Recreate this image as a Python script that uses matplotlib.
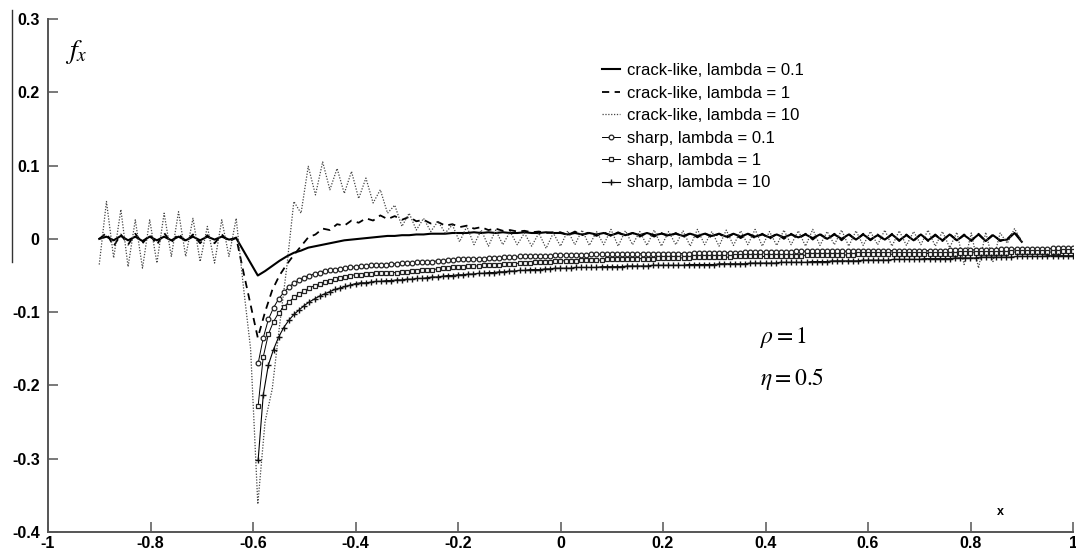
import numpy as np
import matplotlib
matplotlib.use('Agg')
import matplotlib.pyplot as plt
from matplotlib.lines import Line2D

plt.rcParams['font.family'] = ['Liberation Sans', 'DejaVu Sans']
plt.rcParams['mathtext.fontset'] = 'stix'
plt.rcParams['axes.unicode_minus'] = False

# crack-like solutions: 129 nodes on [-0.9, 0.9]
crack_x0, crack_x1, crack_n = -0.9, 0.9, 129
# sharp solutions: 160 nodes on [-0.59, 1.0]
sharp_x0, sharp_x1, sharp_n = -0.59, 1.0, 160

crack_01 = [
    0.000, 0.003, -0.002, 0.004, -0.002, 0.003, -0.003, 0.003, -0.002, 0.003,
    -0.002, 0.003, -0.002, 0.003, -0.002, 0.003, -0.001, 0.003, -0.001, 0.001,
    -0.016, -0.033, -0.050, -0.044, -0.037, -0.030, -0.024, -0.019, -0.016, -0.012,
    -0.010, -0.008, -0.006, -0.004, -0.002, -0.001, 0.000, 0.001, 0.002, 0.003,
    0.004, 0.004, 0.005, 0.005, 0.006, 0.006, 0.007, 0.007, 0.007, 0.008,
    0.008, 0.008, 0.009, 0.008, 0.009, 0.008, 0.009, 0.008, 0.008, 0.009,
    0.008, 0.008, 0.009, 0.008, 0.008, 0.006, 0.008, 0.006, 0.008, 0.006,
    0.008, 0.005, 0.008, 0.005, 0.008, 0.005, 0.008, 0.005, 0.007, 0.005,
    0.007, 0.004, 0.007, 0.004, 0.007, 0.004, 0.007, 0.003, 0.007, 0.003,
    0.007, 0.003, 0.006, 0.002, 0.006, 0.002, 0.006, 0.002, 0.006, 0.001,
    0.006, 0.000, 0.006, 0.000, 0.006, -0.001, 0.006, -0.001, 0.005, -0.001,
    0.006, -0.002, 0.005, -0.002, 0.006, -0.002, 0.005, -0.002, 0.006, -0.002,
    0.005, -0.002, 0.006, -0.003, 0.005, -0.002, -0.001, 0.008, -0.004]

crack_1 = [
    0.000, 0.008, -0.010, 0.006, -0.008, 0.007, -0.006, 0.006, -0.008, 0.008,
    -0.005, 0.007, -0.004, 0.006, -0.006, 0.005, -0.006, 0.006, -0.004, 0.002,
    -0.045, -0.090, -0.135, -0.100, -0.070, -0.050, -0.035, -0.022, -0.010, 0.002,
    0.006, 0.014, 0.012, 0.020, 0.018, 0.025, 0.022, 0.028, 0.025, 0.032,
    0.027, 0.031, 0.026, 0.030, 0.024, 0.026, 0.021, 0.023, 0.018, 0.020,
    0.016, 0.018, 0.014, 0.016, 0.012, 0.014, 0.011, 0.012, 0.010, 0.011,
    0.009, 0.010, 0.008, 0.009, 0.009, 0.005, 0.010, 0.005, 0.009, 0.004,
    0.009, 0.004, 0.009, 0.004, 0.008, 0.003, 0.008, 0.003, 0.008, 0.003,
    0.008, 0.002, 0.008, 0.002, 0.008, 0.002, 0.007, 0.001, 0.007, 0.001,
    0.007, 0.001, 0.007, 0.000, 0.007, 0.000, 0.007, 0.000, 0.007, -0.001,
    0.007, -0.001, 0.007, -0.002, 0.007, -0.002, 0.007, -0.002, 0.006, -0.002,
    0.007, -0.003, 0.006, -0.003, 0.007, -0.003, 0.006, -0.003, 0.007, -0.003,
    0.006, -0.003, 0.007, -0.003, 0.006, -0.003, 0.000, 0.010, -0.003]

crack_10 = [
    -0.035, 0.051, -0.026, 0.040, -0.038, 0.026, -0.040, 0.026, -0.033, 0.035,
    -0.024, 0.037, -0.024, 0.028, -0.031, 0.017, -0.033, 0.026, -0.024, 0.028,
    -0.065, -0.150, -0.362, -0.250, -0.205, -0.120, -0.040, 0.051, 0.035, 0.099,
    0.060, 0.105, 0.067, 0.096, 0.062, 0.092, 0.055, 0.083, 0.049, 0.067,
    0.035, 0.046, 0.017, 0.035, 0.012, 0.028, 0.010, 0.024, 0.008, 0.019,
    -0.004, 0.017, -0.008, 0.012, -0.010, 0.012, -0.008, 0.010, -0.008, 0.008,
    -0.010, 0.008, -0.013, 0.008, -0.010, 0.011, -0.008, 0.012, -0.009, 0.010,
    -0.008, 0.013, -0.010, 0.011, -0.008, 0.010, -0.009, 0.012, -0.010, 0.010,
    -0.008, 0.011, -0.010, 0.013, -0.008, 0.010, -0.010, 0.012, -0.009, 0.011,
    -0.008, 0.013, -0.010, 0.010, -0.009, 0.012, -0.008, 0.011, -0.010, 0.013,
    -0.009, 0.010, -0.008, 0.012, -0.010, 0.011, -0.009, 0.010, -0.008, 0.012,
    -0.010, 0.011, -0.009, 0.010, -0.008, 0.012, -0.010, 0.010, -0.012, 0.009,
    -0.035, 0.008, -0.040, 0.009, -0.031, 0.008, -0.006, 0.014, -0.004]

sharp_01 = [
    -0.170, -0.135, -0.110, -0.094, -0.082, -0.073, -0.066, -0.060, -0.056, -0.053,
    -0.050, -0.048, -0.046, -0.044, -0.043, -0.042, -0.041, -0.040, -0.039, -0.038,
    -0.037, -0.037, -0.036, -0.036, -0.035, -0.035, -0.034, -0.034, -0.033, -0.033,
    -0.033, -0.032, -0.032, -0.031, -0.031, -0.030, -0.030, -0.029, -0.029, -0.028,
    -0.028, -0.028, -0.027, -0.027, -0.027, -0.026, -0.026, -0.026, -0.025, -0.025,
    -0.025, -0.024, -0.024, -0.024, -0.023, -0.023, -0.023, -0.023, -0.022, -0.022,
    -0.022, -0.022, -0.022, -0.022, -0.022, -0.021, -0.021, -0.021, -0.021, -0.021,
    -0.021, -0.021, -0.021, -0.021, -0.021, -0.020, -0.020, -0.020, -0.020, -0.020,
    -0.020, -0.020, -0.020, -0.020, -0.020, -0.019, -0.019, -0.019, -0.019, -0.019,
    -0.019, -0.019, -0.019, -0.019, -0.019, -0.018, -0.018, -0.018, -0.018, -0.018,
    -0.018, -0.018, -0.018, -0.018, -0.018, -0.017, -0.017, -0.017, -0.017, -0.017,
    -0.017, -0.017, -0.017, -0.017, -0.017, -0.017, -0.017, -0.017, -0.017, -0.017,
    -0.016, -0.016, -0.016, -0.016, -0.016, -0.016, -0.016, -0.016, -0.016, -0.016,
    -0.016, -0.016, -0.016, -0.016, -0.016, -0.015, -0.015, -0.015, -0.015, -0.015,
    -0.015, -0.015, -0.015, -0.015, -0.015, -0.014, -0.014, -0.014, -0.014, -0.014,
    -0.014, -0.014, -0.014, -0.014, -0.014, -0.013, -0.013, -0.013, -0.013, -0.013]

sharp_1 = [
    -0.228, -0.161, -0.130, -0.113, -0.101, -0.093, -0.086, -0.080, -0.075, -0.071,
    -0.067, -0.064, -0.061, -0.059, -0.057, -0.055, -0.053, -0.052, -0.050, -0.049,
    -0.049, -0.048, -0.048, -0.047, -0.047, -0.047, -0.046, -0.046, -0.045, -0.045,
    -0.044, -0.044, -0.043, -0.042, -0.042, -0.041, -0.040, -0.040, -0.039, -0.038,
    -0.038, -0.037, -0.037, -0.037, -0.036, -0.036, -0.035, -0.035, -0.034, -0.034,
    -0.034, -0.033, -0.033, -0.033, -0.032, -0.032, -0.031, -0.031, -0.030, -0.030,
    -0.030, -0.030, -0.030, -0.029, -0.029, -0.029, -0.029, -0.029, -0.028, -0.028,
    -0.028, -0.028, -0.028, -0.027, -0.027, -0.027, -0.027, -0.027, -0.026, -0.026,
    -0.026, -0.026, -0.026, -0.026, -0.026, -0.025, -0.025, -0.025, -0.025, -0.025,
    -0.025, -0.025, -0.025, -0.024, -0.024, -0.024, -0.024, -0.024, -0.024, -0.024,
    -0.023, -0.023, -0.023, -0.023, -0.023, -0.023, -0.023, -0.022, -0.022, -0.022,
    -0.022, -0.022, -0.022, -0.022, -0.022, -0.022, -0.022, -0.021, -0.021, -0.021,
    -0.021, -0.021, -0.021, -0.021, -0.021, -0.021, -0.021, -0.020, -0.020, -0.020,
    -0.020, -0.020, -0.020, -0.020, -0.020, -0.020, -0.020, -0.019, -0.019, -0.019,
    -0.019, -0.019, -0.019, -0.019, -0.019, -0.019, -0.019, -0.018, -0.018, -0.018,
    -0.018, -0.018, -0.018, -0.018, -0.018, -0.018, -0.018, -0.017, -0.017, -0.017]

sharp_10 = [
    -0.302, -0.213, -0.172, -0.151, -0.134, -0.121, -0.111, -0.103, -0.097, -0.091,
    -0.086, -0.082, -0.078, -0.075, -0.072, -0.069, -0.067, -0.065, -0.063, -0.061,
    -0.060, -0.060, -0.059, -0.058, -0.058, -0.057, -0.057, -0.056, -0.056, -0.055,
    -0.055, -0.054, -0.054, -0.053, -0.052, -0.052, -0.051, -0.050, -0.050, -0.049,
    -0.049, -0.048, -0.048, -0.047, -0.047, -0.046, -0.046, -0.045, -0.045, -0.044,
    -0.044, -0.043, -0.043, -0.042, -0.042, -0.042, -0.041, -0.041, -0.040, -0.040,
    -0.040, -0.040, -0.039, -0.039, -0.039, -0.039, -0.039, -0.038, -0.038, -0.038,
    -0.038, -0.038, -0.037, -0.037, -0.037, -0.037, -0.037, -0.036, -0.036, -0.036,
    -0.036, -0.036, -0.036, -0.036, -0.035, -0.035, -0.035, -0.035, -0.035, -0.035,
    -0.034, -0.034, -0.034, -0.034, -0.034, -0.034, -0.033, -0.033, -0.033, -0.033,
    -0.033, -0.033, -0.032, -0.032, -0.032, -0.032, -0.032, -0.032, -0.031, -0.031,
    -0.031, -0.031, -0.030, -0.030, -0.030, -0.030, -0.030, -0.030, -0.029, -0.029,
    -0.029, -0.029, -0.029, -0.029, -0.028, -0.028, -0.028, -0.028, -0.028, -0.028,
    -0.027, -0.027, -0.027, -0.027, -0.027, -0.027, -0.026, -0.026, -0.026, -0.026,
    -0.026, -0.025, -0.025, -0.025, -0.025, -0.025, -0.025, -0.025, -0.024, -0.024,
    -0.024, -0.024, -0.024, -0.024, -0.023, -0.023, -0.023, -0.023, -0.023, -0.023]

labels = ['crack-like, lambda = 0.1', 'crack-like, lambda = 1',
          'crack-like, lambda = 10', 'sharp, lambda = 0.1',
          'sharp, lambda = 1', 'sharp, lambda = 10']
xticks = [-1, -0.8, -0.6, -0.4, -0.2, 0, 0.2, 0.4, 0.6, 0.8, 1]
xticklabels = ['-1', '-0.8', '-0.6', '-0.4', '-0.2', '0', '0.2', '0.4', '0.6', '0.8', '1']
yticks = [-0.4, -0.3, -0.2, -0.1, 0, 0.1, 0.2, 0.3]
yticklabels = ['-0.4', '-0.3', '-0.2', '-0.1', '0', '0.1', '0.2', '0.3']

xc = np.linspace(crack_x0, crack_x1, crack_n)
xs = np.linspace(sharp_x0, sharp_x1, sharp_n)

W, H = 1076, 556
fig = plt.figure(figsize=(W / 100, H / 100), dpi=100)
ax = fig.add_axes([48 / W, 24 / H, (1073 - 48) / W, (532 - 19) / H])

ax.plot(xc, crack_01, color='black', lw=1.5, label=labels[0])
ax.plot(xc, crack_1, color='black', lw=1.3, ls=(0, (4, 3)), label=labels[1])
ax.plot(xc, crack_10, color='#444444', lw=0.9, ls=(0, (1, 1.3)), label=labels[2])
ax.plot(xs, sharp_01, color='black', lw=0.7, marker='o', ms=3.4,
        mfc='white', mec='#222222', mew=0.9, label=labels[3])
ax.plot(xs, sharp_1, color='black', lw=0.7, marker='s', ms=3.2,
        mfc='white', mec='#222222', mew=0.9, label=labels[4])
ax.plot(xs, sharp_10, color='black', lw=0.8, marker='+', ms=4.2,
        mec='#111111', mew=1.0, label=labels[5])

ax.set_xlim(-1, 1)
ax.set_ylim(-0.4, 0.3)
ax.set_xticks(xticks)
ax.set_xticklabels(xticklabels)
ax.set_yticks(yticks)
ax.set_yticklabels(yticklabels)
for s in ['top', 'right']:
    ax.spines[s].set_visible(False)
for s in ['left', 'bottom']:
    ax.spines[s].set_color('#555555')
    ax.spines[s].set_linewidth(1.4)
ax.tick_params(direction='in', length=7, width=1.1, color='#555555',
               labelsize=11.5, labelcolor='black')
ax.tick_params(axis='y', pad=6)
ax.tick_params(axis='x', pad=3)
for t in ax.get_xticklabels() + ax.get_yticklabels():
    t.set_fontweight('bold')

ax.legend(loc='upper left', bbox_to_anchor=(602 / W, 1 - 63 / H),
          bbox_transform=fig.transFigure, frameon=False, fontsize=12,
          borderpad=0, borderaxespad=0, handlelength=1.08, handletextpad=0.42,
          labelspacing=0.45, numpoints=1)

fig.text(76 / W, 1 - 52 / H, r'$f_x$', fontsize=20, ha='center', va='center')
fig.text(1000 / W, 1 - 512 / H, 'x', fontsize=9, fontweight='bold',
         ha='center', va='center')
fig.text(760 / W, 1 - 343 / H, r'$\rho = 1$', fontsize=17, ha='left', va='baseline')
fig.text(760 / W, 1 - 385 / H, r'$\eta = 0.5$', fontsize=17, ha='left', va='baseline')

fig.add_artist(Line2D([12 / W, 12 / W], [1 - 10 / H, 1 - 262 / H],
                      transform=fig.transFigure, color='#333333', lw=1))

fig.savefig('out.png', dpi=100)
